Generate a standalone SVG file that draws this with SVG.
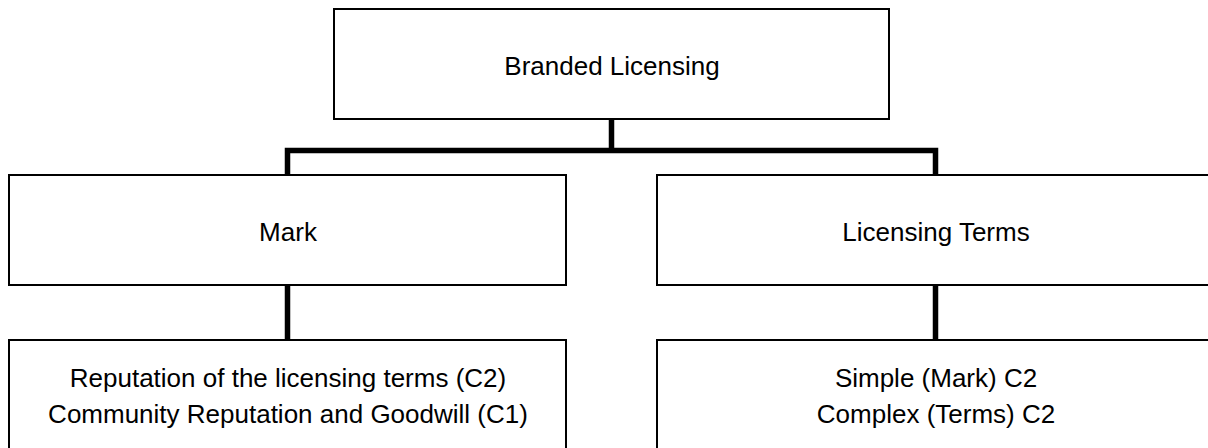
<svg xmlns="http://www.w3.org/2000/svg" width="1208" height="448" viewBox="0 0 1208 448">
<style>
.box{fill:#fff;stroke:#000;stroke-width:2}
.lbl{font-family:"Liberation Sans",Arial,sans-serif;font-size:26px;fill:#000;text-anchor:middle}
.con{fill:none;stroke:#000;stroke-width:5.5;stroke-linecap:butt;stroke-linejoin:miter}
</style>
<rect width="1208" height="448" fill="#fff"/>
<g id="connectors">
<path class="con" d="M611.5,119 V150.5"/>
<path class="con" d="M287.5,175 V150.5 H935.5 V175"/>
<path class="con" d="M287.5,285 V340"/>
<path class="con" d="M935.5,285 V340"/>
</g>
<g id="node-branded">
<rect class="box" x="334" y="9" width="555" height="110"/>
<text class="lbl" x="612" y="75">Branded Licensing</text>
</g>
<g id="node-mark">
<rect class="box" x="9" y="175" width="557" height="110"/>
<text class="lbl" x="288" y="241">Mark</text>
</g>
<g id="node-terms">
<rect class="box" x="657" y="175" width="557" height="110"/>
<text class="lbl" x="936" y="241">Licensing Terms</text>
</g>
<g id="node-reputation">
<rect class="box" x="9" y="340" width="557" height="120"/>
<text class="lbl" x="288" y="387">Reputation of the licensing terms (C2)</text>
<text class="lbl" x="288" y="423">Community Reputation and Goodwill (C1)</text>
</g>
<g id="node-complexity">
<rect class="box" x="657" y="340" width="557" height="120"/>
<text class="lbl" x="936" y="387">Simple (Mark) C2</text>
<text class="lbl" x="936" y="423">Complex (Terms) C2</text>
</g>
</svg>
